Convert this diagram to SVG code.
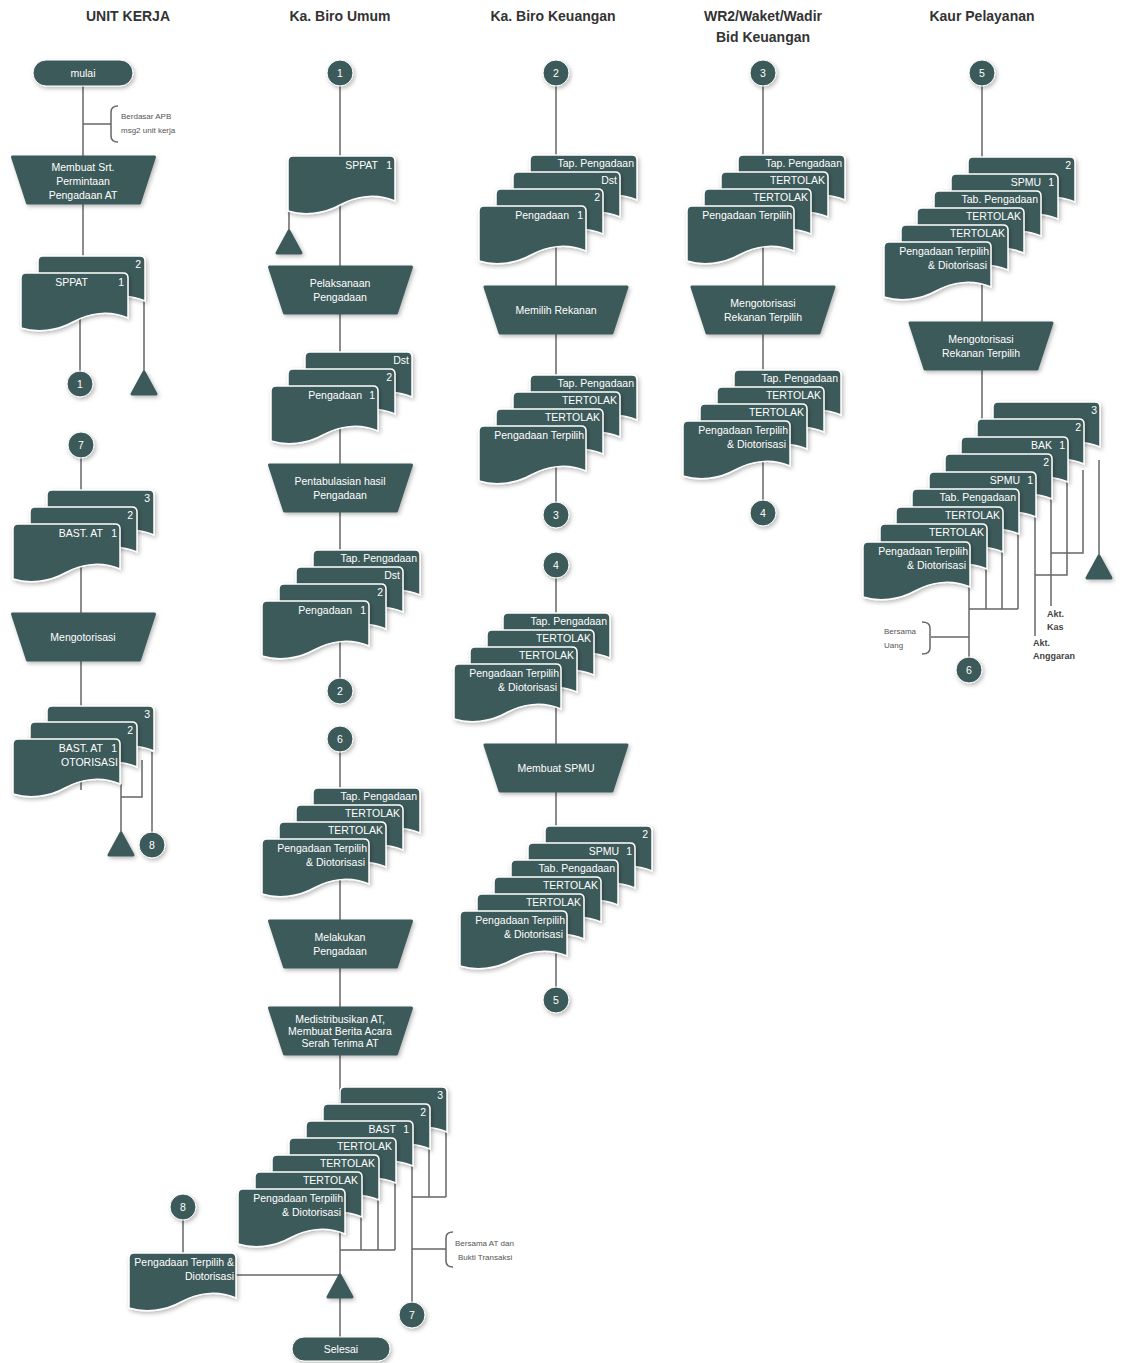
<svg xmlns="http://www.w3.org/2000/svg" xmlns:xlink="http://www.w3.org/1999/xlink" width="1121" height="1363" viewBox="0 0 1121 1363">
<defs>
<filter id="sh" x="-20%" y="-20%" width="150%" height="160%"><feDropShadow dx="1.5" dy="2" stdDeviation="2" flood-color="#000" flood-opacity="0.28"/></filter>
<path id="doc" d="M0,5 Q0,0 5,0 H102 Q107,0 107,5 V45 C88,37 68,40 52,49 C36,58 16,60 0,55 Z"/>
<path id="trap" d="M-71,0 H71 L56,46 H-56 Z"/>
<path id="tri" d="M0,0 L12,22 H-12 Z"/>
</defs>
<style>
.d{fill:#3e5a5a;stroke:#fff;stroke-width:1.5;filter:url(#sh)}
.p{fill:#3e5a5a;stroke:#3e5a5a;stroke-width:3;stroke-linejoin:round;filter:url(#sh)}
.c{fill:#3e5a5a;stroke:#fff;stroke-width:1;filter:url(#sh)}
.w{fill:#fff;font-family:"Liberation Sans",Arial,sans-serif;font-size:10.5px}
.e{text-anchor:end}
.m{text-anchor:middle}
.h{font-family:"Liberation Sans",Arial,sans-serif;font-weight:bold;font-size:14px;fill:#333;text-anchor:middle}
.n{font-family:"Liberation Sans",Arial,sans-serif;font-size:8px;fill:#555}
.k{font-family:"Liberation Sans",Arial,sans-serif;font-size:9px;font-weight:bold;fill:#444}
.ln{fill:none;stroke:#666;stroke-width:1.5}
</style>
<rect width="1121" height="1363" fill="#fff"/>

<g id="headers">
<text class="h" x="128" y="21">UNIT KERJA</text>
<text class="h" x="340" y="21">Ka. Biro Umum</text>
<text class="h" x="553" y="21">Ka. Biro Keuangan</text>
<text class="h" x="763" y="21">WR2/Waket/Wadir</text>
<text class="h" x="763" y="42">Bid Keuangan</text>
<text class="h" x="982" y="21">Kaur Pelayanan</text>
</g>

<g id="connectors" class="ln">
<path d="M83,86 V290"/>
<path d="M80,300 V371"/>
<path d="M83,124 H111"/>
<path d="M144,290 V372"/>
<path d="M81,458 V790"/>
<path d="M121,784 V833"/>
<path d="M142,760 V797 H121"/>
<path d="M152,752 V832"/>
<path d="M340,86 V678"/>
<path d="M289,200 V231"/>
<path d="M340,752 V1337"/>
<path d="M361,1200 V1250 M378,1190 V1250 M395,1180 V1250 M340,1250 H395"/>
<path d="M412,1150 V1302"/>
<path d="M429,1140 V1197 M446,1130 V1197 M412,1197 H446"/>
<path d="M412,1249 H446"/>
<path d="M183,1220 V1253"/>
<path d="M236,1275 H340"/>
<path d="M556,86 V502"/>
<path d="M556,578 V987"/>
<path d="M763,86 V500"/>
<path d="M982,86 V430"/>
<path d="M969,560 V657"/>
<path d="M986,550 V609 M1002,540 V609 M1018,530 V609 M969,609 H1018"/>
<path d="M931,637 H969"/>
<path d="M1035,500 V636"/>
<path d="M1051,490 V606"/>
<path d="M1067,480 V575 H1035"/>
<path d="M1083,470 V553 H1051"/>
<path d="M1099,460 V556"/>
</g>

<g id="uk-mulai"><rect x="33" y="60" width="100" height="26" rx="13" class="c"/><text class="w m" x="83" y="77">mulai</text></g>
<g id="uk-note"><path class="ln" d="M118,106 Q111,106 111,112 V136 Q111,142 118,142"/><text class="n" x="121" y="119">Berdasar APB</text><text class="n" x="121" y="133">msg2 unit kerja</text></g>
<g id="uk-p1"><use href="#trap" x="83.5" y="157" class="p"/><text class="w m" x="83" y="171">Membuat Srt.</text><text class="w m" x="83" y="185">Permintaan</text><text class="w m" x="83" y="199">Pengadaan AT</text></g>
<g id="uk-d1"><use href="#doc" x="38" y="256" class="d"/><use href="#doc" x="21" y="273" class="d"/><text class="w e" x="141" y="268">2</text><text class="w e" x="88" y="286">SPPAT</text><text class="w e" x="124" y="286">1</text></g>
<g id="uk-c1"><circle cx="80" cy="384" r="13" class="c"/><text class="w m" x="80" y="388">1</text></g>
<g id="uk-t1"><use href="#tri" x="144" y="372" class="p"/></g>
<g id="uk-c7"><circle cx="81" cy="445" r="13" class="c"/><text class="w m" x="81" y="449">7</text></g>
<g id="uk-d2"><use href="#doc" x="47" y="490" class="d"/><use href="#doc" x="30" y="507" class="d"/><use href="#doc" x="13" y="524" class="d"/><text class="w e" x="150" y="502">3</text><text class="w e" x="133" y="519">2</text><text class="w e" x="103" y="537">BAST. AT</text><text class="w e" x="117" y="537">1</text></g>
<g id="uk-p2"><use href="#trap" x="83.5" y="614" class="p"/><text class="w m" x="83" y="641">Mengotorisasi</text></g>
<g id="uk-d3"><use href="#doc" x="47" y="706" class="d"/><use href="#doc" x="30" y="722" class="d"/><use href="#doc" x="13" y="739" class="d"/><text class="w e" x="150" y="718">3</text><text class="w e" x="133" y="734">2</text><text class="w e" x="103" y="752">BAST. AT</text><text class="w e" x="117" y="752">1</text><text class="w e" x="118" y="766">OTORISASI</text></g>
<g id="uk-t2"><use href="#tri" x="121" y="833" class="p"/></g>
<g id="uk-c8"><circle cx="152" cy="845" r="13" class="c"/><text class="w m" x="152" y="849">8</text></g>

<g id="bu-c1"><circle cx="340" cy="73" r="13" class="c"/><text class="w m" x="340" y="77">1</text></g>
<g id="bu-d1"><use href="#doc" x="288" y="156" class="d"/><text class="w e" x="378" y="169">SPPAT</text><text class="w e" x="392" y="169">1</text></g>
<g id="bu-t1"><use href="#tri" x="289" y="231" class="p"/></g>
<g id="bu-p1"><use href="#trap" x="340.5" y="267" class="p"/><text class="w m" x="340" y="287">Pelaksanaan</text><text class="w m" x="340" y="301">Pengadaan</text></g>
<g id="bu-d2"><use href="#doc" x="305" y="352" class="d"/><use href="#doc" x="288" y="369" class="d"/><use href="#doc" x="271" y="386" class="d"/><text class="w e" x="409" y="364">Dst</text><text class="w e" x="392" y="381">2</text><text class="w e" x="362" y="399">Pengadaan</text><text class="w e" x="375" y="399">1</text></g>
<g id="bu-p2"><use href="#trap" x="340.5" y="465" class="p"/><text class="w m" x="340" y="485">Pentabulasian hasil</text><text class="w m" x="340" y="499">Pengadaan</text></g>
<g id="bu-d3"><use href="#doc" x="313" y="550" class="d"/><use href="#doc" x="296" y="567" class="d"/><use href="#doc" x="279" y="584" class="d"/><use href="#doc" x="262" y="601" class="d"/><text class="w e" x="417" y="562">Tap. Pengadaan</text><text class="w e" x="400" y="579">Dst</text><text class="w e" x="383" y="596">2</text><text class="w e" x="352" y="614">Pengadaan</text><text class="w e" x="366" y="614">1</text></g>
<g id="bu-c2"><circle cx="340" cy="691" r="13" class="c"/><text class="w m" x="340" y="695">2</text></g>
<g id="bu-c6"><circle cx="340" cy="739" r="13" class="c"/><text class="w m" x="340" y="743">6</text></g>
<g id="bu-d4"><use href="#doc" x="313" y="788" class="d"/><use href="#doc" x="296" y="805" class="d"/><use href="#doc" x="279" y="822" class="d"/><use href="#doc" x="262" y="839" class="d"/><text class="w e" x="417" y="800">Tap. Pengadaan</text><text class="w e" x="400" y="817">TERTOLAK</text><text class="w e" x="383" y="834">TERTOLAK</text><text class="w e" x="367" y="852">Pengadaan Terpilih</text><text class="w e" x="365" y="866">&amp; Diotorisasi</text></g>
<g id="bu-p3"><use href="#trap" x="340.5" y="921" class="p"/><text class="w m" x="340" y="941">Melakukan</text><text class="w m" x="340" y="955">Pengadaan</text></g>
<g id="bu-p4"><use href="#trap" x="340.5" y="1008" class="p"/><text class="w m" x="340" y="1022.5">Medistribusikan AT,</text><text class="w m" x="340" y="1034.5">Membuat Berita Acara</text><text class="w m" x="340" y="1046.5">Serah Terima AT</text></g>
<g id="bu-d5"><use href="#doc" x="340" y="1087" class="d"/><use href="#doc" x="323" y="1104" class="d"/><use href="#doc" x="306" y="1121" class="d"/><use href="#doc" x="289" y="1138" class="d"/><use href="#doc" x="272" y="1155" class="d"/><use href="#doc" x="255" y="1172" class="d"/><use href="#doc" x="238" y="1189" class="d"/><text class="w e" x="443" y="1099">3</text><text class="w e" x="426" y="1116">2</text><text class="w e" x="396" y="1133">BAST</text><text class="w e" x="409" y="1133">1</text><text class="w e" x="392" y="1150">TERTOLAK</text><text class="w e" x="375" y="1167">TERTOLAK</text><text class="w e" x="358" y="1184">TERTOLAK</text><text class="w e" x="343" y="1202">Pengadaan Terpilih</text><text class="w e" x="341" y="1216">&amp; Diotorisasi</text></g>
<g id="bu-note"><path class="ln" d="M453,1232 Q446,1232 446,1238 V1261 Q446,1267 453,1267"/><text class="n" x="455" y="1246">Bersama AT dan</text><text class="n" x="458" y="1260">Bukti Transaksi</text></g>
<g id="bu-c8"><circle cx="183" cy="1207" r="13" class="c"/><text class="w m" x="183" y="1211">8</text></g>
<g id="bu-d6"><use href="#doc" x="129" y="1253" class="d"/><text class="w e" x="234" y="1266">Pengadaan Terpilih &amp;</text><text class="w e" x="234" y="1280">Diotorisasi</text></g>
<g id="bu-t2"><use href="#tri" x="340" y="1275" class="p"/></g>
<g id="bu-c7"><circle cx="412" cy="1315" r="13" class="c"/><text class="w m" x="412" y="1319">7</text></g>
<g id="bu-selesai"><rect x="292" y="1337" width="98" height="24" rx="12" class="c"/><text class="w m" x="341" y="1353">Selesai</text></g>

<g id="bk-c2"><circle cx="556" cy="73" r="13" class="c"/><text class="w m" x="556" y="77">2</text></g>
<g id="bk-d1"><use href="#doc" x="530" y="155" class="d"/><use href="#doc" x="513" y="172" class="d"/><use href="#doc" x="496" y="189" class="d"/><use href="#doc" x="479" y="206" class="d"/><text class="w e" x="634" y="167">Tap. Pengadaan</text><text class="w e" x="617" y="184">Dst</text><text class="w e" x="600" y="201">2</text><text class="w e" x="569" y="219">Pengadaan</text><text class="w e" x="583" y="219">1</text></g>
<g id="bk-p1"><use href="#trap" x="556" y="287" class="p"/><text class="w m" x="556" y="314">Memilih Rekanan</text></g>
<g id="bk-d2"><use href="#doc" x="530" y="375" class="d"/><use href="#doc" x="513" y="392" class="d"/><use href="#doc" x="496" y="409" class="d"/><use href="#doc" x="479" y="426" class="d"/><text class="w e" x="634" y="387">Tap. Pengadaan</text><text class="w e" x="617" y="404">TERTOLAK</text><text class="w e" x="600" y="421">TERTOLAK</text><text class="w e" x="584" y="439">Pengadaan Terpilih</text></g>
<g id="bk-c3"><circle cx="556" cy="515" r="13" class="c"/><text class="w m" x="556" y="519">3</text></g>
<g id="bk-c4"><circle cx="556" cy="565" r="13" class="c"/><text class="w m" x="556" y="569">4</text></g>
<g id="bk-d3"><use href="#doc" x="503" y="613" class="d"/><use href="#doc" x="487" y="630" class="d"/><use href="#doc" x="470" y="647" class="d"/><use href="#doc" x="454" y="664" class="d"/><text class="w e" x="607" y="625">Tap. Pengadaan</text><text class="w e" x="591" y="642">TERTOLAK</text><text class="w e" x="574" y="659">TERTOLAK</text><text class="w e" x="559" y="677">Pengadaan Terpilih</text><text class="w e" x="557" y="691">&amp; Diotorisasi</text></g>
<g id="bk-p2"><use href="#trap" x="556" y="745" class="p"/><text class="w m" x="556" y="772">Membuat SPMU</text></g>
<g id="bk-d4"><use href="#doc" x="545" y="826" class="d"/><use href="#doc" x="528" y="843" class="d"/><use href="#doc" x="511" y="860" class="d"/><use href="#doc" x="494" y="877" class="d"/><use href="#doc" x="477" y="894" class="d"/><use href="#doc" x="460" y="911" class="d"/><text class="w e" x="648" y="838">2</text><text class="w e" x="619" y="855">SPMU</text><text class="w e" x="632" y="855">1</text><text class="w e" x="615" y="872">Tab. Pengadaan</text><text class="w e" x="598" y="889">TERTOLAK</text><text class="w e" x="581" y="906">TERTOLAK</text><text class="w e" x="565" y="924">Pengadaan Terpilih</text><text class="w e" x="563" y="938">&amp; Diotorisasi</text></g>
<g id="bk-c5"><circle cx="556" cy="1000" r="13" class="c"/><text class="w m" x="556" y="1004">5</text></g>

<g id="wr-c3"><circle cx="763" cy="73" r="13" class="c"/><text class="w m" x="763" y="77">3</text></g>
<g id="wr-d1"><use href="#doc" x="738" y="155" class="d"/><use href="#doc" x="721" y="172" class="d"/><use href="#doc" x="704" y="189" class="d"/><use href="#doc" x="687" y="206" class="d"/><text class="w e" x="842" y="167">Tap. Pengadaan</text><text class="w e" x="825" y="184">TERTOLAK</text><text class="w e" x="808" y="201">TERTOLAK</text><text class="w e" x="792" y="219">Pengadaan Terpilih</text></g>
<g id="wr-p1"><use href="#trap" x="763" y="287" class="p"/><text class="w m" x="763" y="307">Mengotorisasi</text><text class="w m" x="763" y="321">Rekanan Terpilih</text></g>
<g id="wr-d2"><use href="#doc" x="734" y="370" class="d"/><use href="#doc" x="717" y="387" class="d"/><use href="#doc" x="700" y="404" class="d"/><use href="#doc" x="683" y="421" class="d"/><text class="w e" x="838" y="382">Tap. Pengadaan</text><text class="w e" x="821" y="399">TERTOLAK</text><text class="w e" x="804" y="416">TERTOLAK</text><text class="w e" x="788" y="434">Pengadaan Terpilih</text><text class="w e" x="786" y="448">&amp; Diotorisasi</text></g>
<g id="wr-c4"><circle cx="763" cy="513" r="13" class="c"/><text class="w m" x="763" y="517">4</text></g>

<g id="kp-c5"><circle cx="982" cy="73" r="13" class="c"/><text class="w m" x="982" y="77">5</text></g>
<g id="kp-d1"><use href="#doc" x="968" y="157" class="d"/><use href="#doc" x="951" y="174" class="d"/><use href="#doc" x="934" y="191" class="d"/><use href="#doc" x="917" y="208" class="d"/><use href="#doc" x="901" y="225" class="d"/><use href="#doc" x="884" y="242" class="d"/><text class="w e" x="1071" y="169">2</text><text class="w e" x="1041" y="186">SPMU</text><text class="w e" x="1054" y="186">1</text><text class="w e" x="1038" y="203">Tab. Pengadaan</text><text class="w e" x="1021" y="220">TERTOLAK</text><text class="w e" x="1005" y="237">TERTOLAK</text><text class="w e" x="989" y="255">Pengadaan Terpilih</text><text class="w e" x="987" y="269">&amp; Diotorisasi</text></g>
<g id="kp-p1"><use href="#trap" x="981" y="323" class="p"/><text class="w m" x="981" y="343">Mengotorisasi</text><text class="w m" x="981" y="357">Rekanan Terpilih</text></g>
<g id="kp-d2"><use href="#doc" x="993" y="402" class="d"/><use href="#doc" x="977" y="419" class="d"/><use href="#doc" x="961" y="437" class="d"/><use href="#doc" x="945" y="454" class="d"/><use href="#doc" x="929" y="472" class="d"/><use href="#doc" x="912" y="489" class="d"/><use href="#doc" x="896" y="507" class="d"/><use href="#doc" x="880" y="524" class="d"/><use href="#doc" x="863" y="542" class="d"/><text class="w e" x="1097" y="414">3</text><text class="w e" x="1081" y="431">2</text><text class="w e" x="1052" y="449">BAK</text><text class="w e" x="1065" y="449">1</text><text class="w e" x="1049" y="466">2</text><text class="w e" x="1020" y="484">SPMU</text><text class="w e" x="1033" y="484">1</text><text class="w e" x="1016" y="501">Tab. Pengadaan</text><text class="w e" x="1000" y="519">TERTOLAK</text><text class="w e" x="984" y="536">TERTOLAK</text><text class="w e" x="968" y="555">Pengadaan Terpilih</text><text class="w e" x="966" y="569">&amp; Diotorisasi</text></g>
<g id="kp-t1"><use href="#tri" x="1099" y="556" class="p"/></g>
<g id="kp-note1"><path class="ln" d="M922,622 Q930,622 930,628 V648 Q930,654 922,654"/><text class="n" x="884" y="634">Bersama</text><text class="n" x="884" y="648">Uang</text></g>
<g id="kp-akt"><text class="k" x="1047" y="617">Akt.</text><text class="k" x="1047" y="630">Kas</text><text class="k" x="1033" y="646">Akt.</text><text class="k" x="1033" y="659">Anggaran</text></g>
<g id="kp-c6"><circle cx="969" cy="670" r="13" class="c"/><text class="w m" x="969" y="674">6</text></g>
</svg>
